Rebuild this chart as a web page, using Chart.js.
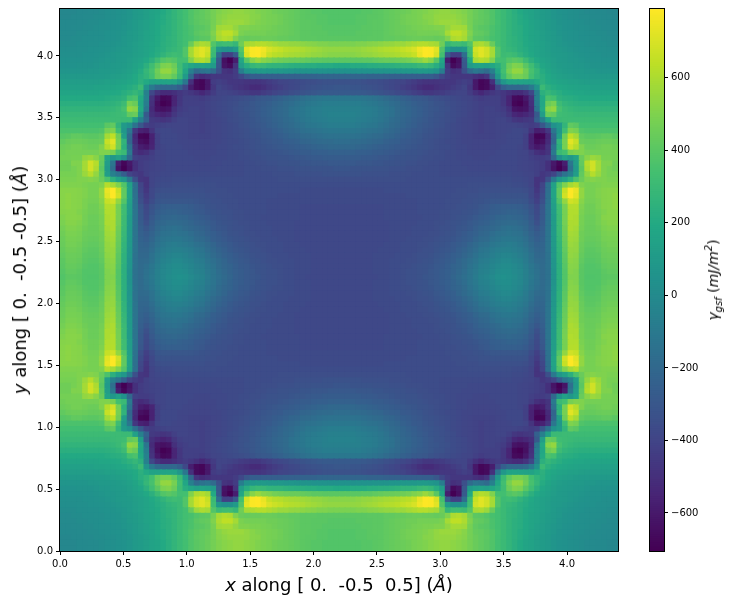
<!DOCTYPE html>
<html>
<head>
<meta charset="utf-8">
<title>Generalized stacking fault energy</title>
<script src="https://cdn.jsdelivr.net/npm/chart.js"></script>
<style>
  html, body { margin: 0; padding: 0; background: #fff; }
  body { width: 732px; height: 605px; position: relative; overflow: hidden; font-family: "DejaVu Sans", sans-serif; color: #000; }
  canvas { position: absolute; top: 0; display: block; }
  #heat { left: 0; }
  #cbar { left: 640px; }
  .label { position: absolute; white-space: pre; font-size: 18px; line-height: 24px; }
  #xlabel { left: 339px; top: 573px; transform: translateX(-50%); }
  #ylabel { left: 20px; top: 280px; transform: translate(-50%, -50%) rotate(-90deg); }
  #clabel { left: 713px; top: 280px; font-size: 14px; transform: translate(-50%, -50%) rotate(-90deg); }
  #clabel sub, #clabel sup { font-size: 10px; line-height: 0; }
</style>
</head>
<body>
<canvas id="heat" width="732" height="605"></canvas>
<canvas id="cbar" width="92" height="605"></canvas>
<div class="label" id="xlabel"><i>x</i> along [ 0.  -0.5  0.5] (<i>Å</i>)</div>
<div class="label" id="ylabel"><i>y</i> along [ 0.  -0.5 -0.5] (<i>Å</i>)</div>
<div class="label" id="clabel"><i>γ<sub>gsf</sub></i> (<i>mJ/m<sup>2</sup></i>)</div>
<script>
const xTicks = [0, 0.5, 1, 1.5, 2, 2.5, 3, 3.5, 4];
const yTicks = [0, 0.5, 1, 1.5, 2, 2.5, 3, 3.5, 4];
const cbarTicks = [-600, -400, -200, 0, 200, 400, 600];
const xMax = 4.402;
const yMax = 4.379;
const vMin = -705;
const vMax = 790;
const nCells = 100;

// in 10 mJ/m2: top left quarter of the map, left edge to centre
// (the map is mirror symmetric, centre column 50 and centre row 49)
const gammaRows = [
  [-2,-2,-2,-1,-1,0,0,1,2,3,4,5,7,9,11,13,15,17,20,23,27,30,33,37,40,42,44,47,50,52,53,54,54,53,52,50,49,48,46,45,44,43,42,41,40,39,39,38,38,38,38],
  [-2,-2,-1,-1,0,0,1,1,2,3,4,6,7,9,11,13,15,18,21,24,27,30,33,37,41,42,44,47,51,53,55,55,55,54,52,51,49,48,47,46,44,43,42,41,40,40,39,39,38,38,38],
  [-1,-1,-1,0,0,1,1,2,3,4,5,6,8,10,12,14,16,19,21,24,27,30,34,37,40,42,43,47,52,55,56,56,56,54,52,50,49,48,47,46,44,43,42,41,41,40,39,39,38,38,38],
  [-1,-1,0,0,1,1,2,3,3,4,5,7,8,10,12,14,17,19,22,24,27,30,33,36,39,40,42,48,57,58,58,54,50,50,49,49,48,47,46,45,44,43,42,41,41,40,40,39,39,39,39],
  [0,0,0,1,1,2,2,3,4,5,6,7,9,11,13,15,17,19,22,24,27,30,33,36,40,42,43,50,60,64,64,58,49,47,47,47,47,46,46,45,44,43,42,41,41,40,40,40,39,39,39],
  [0,0,1,1,2,2,3,3,4,5,6,8,9,11,13,15,17,20,22,25,27,30,33,35,38,40,41,48,58,61,60,50,44,43,44,44,45,45,44,43,43,42,42,41,41,41,40,40,40,40,40],
  [1,1,1,2,2,3,3,4,5,6,7,8,10,12,14,16,18,20,23,25,27,30,33,44,56,60,58,38,30,32,32,28,46,58,60,62,62,60,58,56,56,55,54,53,52,51,50,50,49,49,49],
  [2,2,2,3,3,4,4,5,6,7,8,9,10,12,14,16,18,21,23,26,28,30,38,58,68,72,68,32,8,4,4,10,38,72,78,79,76,70,67,65,63,62,61,60,58,57,56,55,54,54,54],
  [3,3,3,3,4,4,5,6,7,8,9,10,11,13,14,16,19,22,26,30,32,31,38,58,68,72,66,30,-16,-42,-42,-28,34,70,78,79,74,66,63,62,60,59,58,57,56,55,54,53,52,52,52],
  [4,4,4,4,5,5,6,7,8,8,9,10,12,14,16,19,24,31,38,40,38,33,34,50,60,62,58,20,-28,-64,-70,-58,18,40,52,56,52,50,47,46,45,44,44,43,42,41,41,40,40,40,40],
  [5,5,5,6,6,6,7,8,8,9,10,11,13,15,18,24,32,40,49,50,45,32,22,18,14,16,14,10,-30,-62,-66,-48,12,22,28,30,29,27,26,26,25,24,23,23,22,22,21,21,21,20,20],
  [7,7,7,7,7,8,8,9,9,10,11,12,14,17,21,28,35,46,54,55,48,33,18,-6,-18,-14,-12,-18,-34,-48,-50,-44,-8,6,8,9,9,8,8,8,7,7,6,6,6,5,5,5,4,4,4],
  [9,9,9,9,9,9,10,10,11,12,13,14,16,19,23,27,33,44,48,48,42,30,10,-20,-48,-52,-50,-46,-46,-46,-46,-44,-38,-30,-26,-26,-25,-25,-25,-25,-24,-24,-24,-23,-23,-23,-22,-22,-22,-22,-22],
  [12,12,12,12,12,12,12,13,14,14,15,16,18,20,24,20,15,15,16,17,16,8,-12,-50,-66,-68,-60,-44,-42,-44,-46,-46,-46,-48,-48,-48,-46,-44,-42,-40,-39,-38,-37,-36,-35,-35,-34,-33,-33,-33,-33],
  [14,14,14,14,14,14,15,15,16,17,18,19,21,24,30,6,-10,-18,-20,-20,-20,-25,-38,-58,-66,-68,-60,-46,-40,-42,-44,-46,-48,-50,-52,-52,-50,-46,-44,-42,-40,-38,-37,-35,-34,-33,-32,-31,-31,-30,-30],
  [17,17,17,17,17,17,17,18,18,19,20,22,25,28,24,-6,-38,-48,-52,-52,-50,-46,-44,-46,-50,-54,-50,-44,-40,-40,-41,-42,-44,-45,-46,-46,-44,-42,-40,-38,-37,-35,-34,-32,-31,-30,-29,-28,-28,-28,-28],
  [20,20,20,20,20,20,20,20,21,22,23,25,34,36,20,-5,-48,-60,-67,-66,-55,-46,-42,-42,-43,-44,-42,-40,-39,-38,-37,-36,-35,-34,-32,-30,-29,-28,-26,-24,-22,-20,-18,-16,-14,-13,-12,-11,-11,-11,-11],
  [23,23,23,23,23,23,23,23,24,25,27,31,48,44,18,-8,-50,-64,-70,-68,-55,-46,-42,-42,-42,-42,-41,-39,-38,-37,-36,-35,-33,-32,-30,-28,-27,-25,-23,-21,-19,-17,-15,-13,-11,-10,-9,-8,-8,-8,-8],
  [26,26,26,26,26,26,26,26,27,28,30,35,55,52,20,-12,-52,-62,-64,-62,-50,-44,-42,-41,-41,-42,-41,-39,-38,-37,-36,-34,-33,-31,-30,-28,-26,-24,-22,-20,-18,-15,-13,-11,-9,-8,-7,-6,-6,-6,-6],
  [29,29,29,29,29,29,29,29,29,30,31,32,42,44,12,-28,-50,-54,-56,-54,-46,-42,-41,-41,-41,-42,-41,-40,-38,-37,-36,-35,-33,-32,-30,-28,-26,-24,-22,-20,-18,-15,-13,-11,-9,-8,-7,-6,-5,-5,-5],
  [31,31,31,31,31,31,31,31,31,31,31,30,30,14,-6,-24,-45,-46,-48,-46,-42,-40,-40,-41,-41,-42,-41,-40,-39,-38,-36,-35,-34,-32,-31,-29,-27,-25,-23,-21,-19,-17,-14,-12,-10,-9,-8,-7,-6,-6,-6],
  [33,33,33,33,33,33,33,33,40,42,27,10,4,-14,-30,-42,-44,-42,-41,-40,-40,-40,-40,-41,-41,-42,-41,-40,-39,-38,-37,-36,-34,-33,-31,-30,-28,-26,-24,-22,-20,-18,-16,-14,-12,-11,-10,-9,-8,-8,-8],
  [36,36,36,36,36,36,36,37,48,50,32,8,-12,-46,-56,-58,-48,-40,-38,-38,-39,-40,-40,-41,-41,-42,-41,-40,-39,-38,-37,-36,-35,-34,-32,-31,-29,-28,-26,-24,-22,-20,-18,-16,-15,-14,-13,-12,-11,-11,-11],
  [39,40,42,42,41,40,40,42,58,64,46,12,-20,-54,-68,-69,-56,-42,-38,-38,-38,-39,-40,-41,-41,-41,-41,-40,-39,-38,-37,-36,-35,-34,-33,-32,-30,-29,-27,-26,-24,-22,-21,-19,-18,-17,-16,-15,-14,-14,-14],
  [42,44,45,45,44,43,43,44,66,72,48,26,-22,-52,-64,-66,-56,-42,-38,-38,-38,-39,-39,-40,-40,-40,-40,-39,-39,-38,-37,-37,-36,-35,-34,-33,-31,-30,-29,-28,-26,-25,-24,-22,-21,-20,-19,-18,-18,-17,-17],
  [45,46,47,47,46,45,45,50,62,68,48,24,-14,-48,-58,-60,-55,-42,-39,-38,-38,-38,-39,-39,-40,-40,-40,-39,-38,-38,-37,-36,-36,-35,-34,-33,-32,-31,-30,-29,-28,-27,-26,-25,-24,-23,-22,-21,-20,-20,-20],
  [46,47,47,47,47,47,47,50,50,48,34,30,-10,-48,-52,-50,-44,-40,-39,-38,-38,-38,-38,-39,-39,-39,-39,-39,-38,-38,-37,-37,-36,-35,-35,-34,-33,-32,-32,-31,-30,-29,-28,-27,-27,-26,-25,-25,-24,-24,-24],
  [47,47,48,48,54,56,52,44,16,8,14,4,-20,-42,-44,-44,-42,-40,-39,-38,-38,-38,-38,-38,-39,-39,-39,-38,-38,-38,-37,-37,-36,-36,-35,-35,-34,-33,-33,-32,-32,-31,-30,-30,-29,-28,-28,-27,-27,-27,-27],
  [46,46,50,50,58,68,62,42,12,-12,-58,-68,-60,-50,-44,-42,-41,-40,-39,-38,-38,-38,-38,-38,-38,-38,-38,-38,-38,-37,-37,-37,-37,-36,-36,-35,-35,-34,-34,-33,-33,-32,-32,-31,-31,-30,-30,-30,-29,-29,-29],
  [46,46,48,50,58,68,60,40,10,-16,-62,-70,-62,-50,-44,-42,-41,-40,-39,-38,-38,-38,-38,-38,-38,-38,-38,-38,-37,-37,-37,-37,-37,-36,-36,-36,-35,-35,-35,-34,-34,-34,-33,-33,-33,-32,-32,-32,-32,-31,-31],
  [48,48,48,50,56,62,54,42,12,-6,-14,-26,-40,-44,-46,-42,-40,-39,-38,-38,-37,-37,-37,-37,-37,-37,-37,-37,-37,-37,-37,-37,-37,-36,-36,-36,-36,-36,-35,-35,-35,-35,-34,-34,-34,-34,-34,-33,-33,-33,-33],
  [49,49,49,50,50,51,50,44,36,24,14,8,-10,-34,-46,-48,-40,-38,-37,-37,-36,-36,-36,-36,-36,-36,-36,-36,-36,-36,-36,-36,-36,-36,-36,-36,-36,-36,-36,-35,-35,-35,-35,-35,-35,-35,-35,-35,-35,-35,-35],
  [50,50,50,50,49,48,48,50,62,58,50,38,14,-16,-40,-48,-40,-37,-36,-36,-35,-35,-35,-35,-35,-35,-35,-35,-36,-36,-36,-36,-36,-36,-36,-36,-36,-36,-36,-36,-36,-36,-36,-36,-36,-36,-36,-36,-36,-36,-36],
  [52,52,52,51,50,48,48,54,74,79,66,42,16,-16,-38,-46,-38,-35,-34,-34,-34,-34,-34,-34,-34,-34,-35,-35,-35,-35,-36,-36,-36,-36,-36,-36,-36,-36,-36,-36,-36,-36,-36,-37,-37,-37,-37,-37,-37,-37,-37],
  [52,53,52,51,50,48,48,54,72,79,68,42,16,-15,-36,-44,-38,-33,-32,-32,-32,-32,-32,-32,-33,-33,-34,-34,-35,-35,-35,-36,-36,-36,-36,-36,-36,-36,-36,-37,-37,-37,-37,-37,-37,-37,-37,-37,-37,-37,-37],
  [52,53,52,51,49,47,47,52,66,68,54,38,14,-14,-34,-42,-36,-31,-30,-30,-30,-30,-30,-30,-31,-32,-33,-34,-34,-35,-35,-35,-36,-36,-36,-36,-36,-37,-37,-37,-37,-37,-37,-37,-37,-37,-37,-37,-37,-37,-37],
  [52,53,52,51,49,46,46,50,62,62,48,32,12,-13,-30,-38,-32,-28,-26,-25,-25,-25,-26,-27,-29,-30,-32,-33,-34,-34,-35,-35,-36,-36,-36,-36,-36,-37,-37,-37,-37,-37,-37,-38,-38,-38,-38,-38,-38,-38,-38],
  [51,52,52,50,48,46,46,49,61,61,48,32,12,-13,-29,-37,-31,-26,-24,-23,-23,-24,-25,-26,-28,-29,-31,-32,-33,-34,-34,-35,-35,-36,-36,-36,-36,-37,-37,-37,-37,-37,-37,-38,-38,-38,-38,-38,-38,-38,-38],
  [50,52,52,51,47,45,45,48,60,61,48,31,11,-13,-28,-36,-29,-24,-22,-21,-20,-21,-22,-24,-26,-27,-29,-31,-32,-33,-34,-35,-35,-36,-36,-36,-37,-37,-37,-37,-37,-37,-37,-38,-38,-38,-38,-38,-38,-38,-38],
  [49,51,51,50,47,45,45,48,60,60,47,31,11,-13,-27,-34,-27,-22,-20,-18,-18,-19,-20,-22,-24,-25,-27,-29,-31,-32,-33,-34,-35,-35,-36,-36,-36,-37,-37,-37,-37,-37,-38,-38,-38,-38,-38,-38,-38,-38,-38],
  [47,50,50,49,46,44,44,47,58,60,46,30,10,-13,-25,-30,-25,-20,-17,-16,-15,-16,-18,-20,-22,-23,-25,-28,-30,-31,-33,-34,-34,-35,-36,-36,-36,-36,-37,-37,-37,-37,-38,-38,-38,-38,-38,-38,-38,-38,-38],
  [46,49,49,48,45,44,44,46,57,58,45,29,10,-13,-24,-27,-23,-18,-15,-14,-13,-14,-15,-17,-20,-21,-24,-26,-28,-30,-32,-33,-34,-35,-35,-36,-36,-36,-37,-37,-37,-37,-38,-38,-38,-38,-38,-38,-38,-38,-38],
  [45,48,48,47,44,43,43,46,56,57,44,28,9,-13,-23,-25,-21,-16,-13,-12,-11,-11,-13,-15,-18,-19,-22,-25,-27,-29,-31,-32,-33,-34,-35,-35,-36,-36,-36,-37,-37,-37,-38,-38,-38,-38,-38,-38,-38,-38,-38],
  [44,47,47,46,43,42,42,45,55,56,43,27,9,-13,-22,-23,-19,-14,-11,-9,-8,-9,-10,-12,-15,-16,-19,-22,-25,-27,-29,-31,-32,-33,-34,-35,-35,-36,-36,-36,-37,-37,-37,-38,-38,-38,-38,-38,-38,-38,-38],
  [43,46,46,45,42,41,41,44,54,55,42,26,8,-13,-21,-21,-17,-12,-9,-7,-6,-6,-7,-9,-12,-13,-17,-20,-23,-25,-28,-30,-31,-32,-34,-34,-35,-36,-36,-36,-37,-37,-37,-37,-38,-38,-38,-38,-38,-38,-38],
  [42,45,45,44,41,40,40,43,53,54,41,25,8,-14,-20,-20,-15,-10,-7,-5,-3,-3,-5,-7,-10,-11,-15,-18,-21,-24,-26,-28,-30,-31,-33,-34,-34,-35,-36,-36,-36,-37,-37,-37,-37,-38,-38,-38,-38,-38,-38],
  [41,44,44,43,40,39,39,42,52,53,40,25,7,-14,-19,-18,-14,-9,-5,-3,-1,-1,-3,-5,-8,-9,-13,-16,-19,-22,-25,-27,-29,-30,-32,-33,-34,-35,-35,-36,-36,-36,-37,-37,-37,-38,-38,-38,-38,-38,-38],
  [40,43,43,42,39,38,38,41,51,52,39,24,7,-14,-18,-16,-12,-7,-3,-1,1,1,-1,-3,-6,-7,-11,-14,-18,-21,-23,-26,-28,-29,-31,-32,-33,-34,-35,-35,-36,-36,-37,-37,-37,-38,-38,-38,-38,-38,-38],
  [39,42,42,41,38,38,38,40,50,51,38,24,6,-15,-18,-15,-11,-6,-2,0,2,2,1,-2,-5,-6,-10,-13,-17,-20,-23,-25,-27,-29,-30,-32,-33,-34,-34,-35,-36,-36,-37,-37,-37,-38,-38,-38,-38,-38,-38],
  [38,41,41,40,38,37,37,40,50,50,38,24,6,-15,-18,-14,-10,-6,-2,1,3,4,3,0,-3,-5,-9,-13,-16,-19,-22,-25,-27,-29,-30,-31,-33,-34,-34,-35,-36,-36,-37,-37,-38,-38,-38,-38,-38,-38,-38],
];

const viridis = ["#440154", "#482475", "#414487", "#355f8d", "#2a788e", "#21918c", "#22a884", "#44bf70", "#7ad151", "#bddf26", "#fde725"];

function hexRgb(h) {
  return [1, 3, 5].map(i => parseInt(h.slice(i, i + 2), 16));
}

function colorAt(t) {
  const pos = Math.max(0, Math.min(1, t)) * (viridis.length - 1);
  const i = Math.min(viridis.length - 2, Math.floor(pos));
  const a = hexRgb(viridis[i]);
  const b = hexRgb(viridis[i + 1]);
  const f = pos - i;
  return `rgb(${a.map((v, k) => Math.round(v + (b[k] - v) * f)).join(",")})`;
}

// solid swatch used as point style, first row and column left empty so that
// neighbouring cells overlap without a white seam
function swatch(color, w, h) {
  const c = document.createElement("canvas");
  c.width = w;
  c.height = h;
  const g = c.getContext("2d");
  g.fillStyle = color;
  g.fillRect(1, 1, w - 1, h - 1);
  return c;
}

const cellSwatches = new Map();
function cellStyle(v) {
  const idx = Math.floor(Math.max(0, Math.min(0.9999, (v - vMin) / (vMax - vMin))) * 256);
  if (!cellSwatches.has(idx)) cellSwatches.set(idx, swatch(colorAt(idx / 255), 8, 8));
  return cellSwatches.get(idx);
}

function gammaAt(col, row) {
  const c = col > 50 ? 100 - col : col;
  const r = row > 49 ? Math.max(0, 98 - row) : row;
  return gammaRows[r][c] * 10;
}

const cells = [];
for (let row = 0; row < nCells; row++) {
  for (let col = 0; col < nCells; col++) {
    cells.push({
      x: (col + 0.5) * xMax / nCells,
      y: yMax * (1 - (row + 0.5) / nCells),
      v: gammaAt(col, row),
    });
  }
}

const frame = {
  id: "frame",
  afterDraw(chart) {
    const a = chart.chartArea;
    const g = chart.ctx;
    g.save();
    g.strokeStyle = "#000";
    g.lineWidth = 1;
    g.strokeRect(a.left - 0.5, a.top - 0.5, a.right - a.left + 1, a.bottom - a.top + 1);
    g.restore();
  }
};

const tickFont = { family: "'DejaVu Sans'", size: 10 };

function axis(ticks, format, extra) {
  return Object.assign({
    type: "linear",
    grid: { drawOnChartArea: false, drawTicks: true, tickLength: 4, tickColor: "#000", lineWidth: 1 },
    border: { display: false },
    afterBuildTicks: s => { s.ticks = ticks.map(value => ({ value })); },
    ticks: { color: "#000", font: tickFont, padding: 3, autoSkip: false, maxRotation: 0, minRotation: 0, callback: format },
  }, extra);
}

const oneDecimal = v => Number(v).toFixed(1);

new Chart(document.getElementById("heat"), {
  type: "scatter",
  data: {
    datasets: [{
      data: cells,
      showLine: false,
      clip: 0,
      pointRadius: 4,
      pointHoverRadius: 4,
      pointStyle: ctx => cellStyle(ctx.raw.v),
    }]
  },
  options: {
    responsive: false,
    animation: false,
    events: [],
    layout: { padding: { top: 8, right: 114, left: 0, bottom: 0 } },
    plugins: { legend: { display: false }, tooltip: { enabled: false } },
    scales: {
      x: axis(xTicks, oneDecimal, { min: 0, max: xMax, afterFit: s => { s.height = 54; } }),
      y: axis(yTicks, oneDecimal, { min: 0, max: yMax, afterFit: s => { s.width = 60; } }),
    }
  },
  plugins: [frame]
});

// colour bar, one level per point like the 256 steps of the colormap
const levels = [];
for (let i = 255; i >= 0; i--) {
  levels.push({ x: 0.5, y: vMin + (i + 0.5) * (vMax - vMin) / 256, c: i / 255 });
}

new Chart(document.getElementById("cbar"), {
  type: "scatter",
  data: {
    datasets: [{
      data: levels,
      showLine: false,
      clip: 0,
      pointRadius: 4,
      pointStyle: ctx => swatch(colorAt(ctx.raw.c), 20, 4),
    }]
  },
  options: {
    responsive: false,
    animation: false,
    events: [],
    layout: { padding: { top: 8, left: 10, right: 0, bottom: 54 } },
    plugins: { legend: { display: false }, tooltip: { enabled: false } },
    scales: {
      x: { type: "linear", display: false, min: 0, max: 1 },
      y: axis(cbarTicks, v => String(v).replace("-", "\u2212"), { position: "right", min: vMin, max: vMax, afterFit: s => { s.width = 68; } }),
    }
  },
  plugins: [frame]
});
</script>
</body>
</html>
